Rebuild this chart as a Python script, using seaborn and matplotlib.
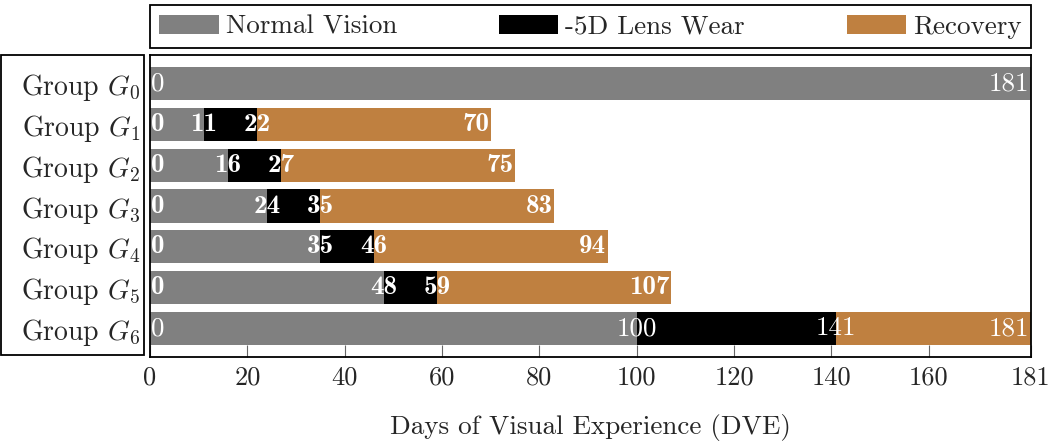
import numpy as np
import pandas as pd
import matplotlib
matplotlib.use('Agg')
import matplotlib.pyplot as plt
from matplotlib.patches import Rectangle
import seaborn as sns

groups = ['Group $G_{%d}$' % i for i in range(7)]
normal_end = [181, 11, 16, 24, 35, 48, 100]
lens_end = [181, 22, 27, 35, 46, 59, 141]
recovery_end = [181, 70, 75, 83, 94, 107, 181]
series_names = ['Normal Vision', '-5D Lens Wear', 'Recovery']
series_colors = ['#808080', '#000000', '#BF8040']
xtick_values = [0, 20, 40, 60, 80, 100, 120, 140, 160, 181]

sns.set_style('ticks')
plt.rcParams['font.family'] = ['cmr10', 'DejaVu Serif']
plt.rcParams['mathtext.fontset'] = 'cm'
plt.rcParams['axes.formatter.use_mathtext'] = True
plt.rcParams['axes.unicode_minus'] = False

df = pd.DataFrame({'group': groups, 'normal': normal_end,
                   'lens': lens_end, 'recovery': recovery_end})

fig = plt.figure(figsize=(10.5, 4.42), dpi=100)
ax = fig.add_axes([150 / 1050, 1 - 357 / 442, 881 / 1050, 302 / 442])

# stacked look: draw cumulative ends, longest first
for col, color in zip(['recovery', 'lens', 'normal'], series_colors[::-1]):
    sns.barplot(data=df, x=col, y='group', orient='h', color=color,
                width=0.81, saturation=1, ax=ax, linewidth=0)

ax.set_xlim(0, 181)
ax.set_ylim(6.7, -0.7)
ax.set_xticks(xtick_values)
ax.set_xticklabels([str(v) for v in xtick_values], fontsize=19)
ax.tick_params(axis='x', direction='in', length=9, width=0.8, color='#666666', pad=6)
ax.tick_params(axis='y', length=0, pad=7, labelsize=20)
ax.set_ylabel('')
ax.set_xlabel('Days of Visual Experience (DVE)', fontsize=19.5, va='top')
ax.xaxis.set_label_coords(0.5, -0.19)
for s in ax.spines.values():
    s.set_visible(True)
    s.set_color('black')
    s.set_linewidth(1.3)

# boundary labels inside bars
for i in range(len(groups)):
    if i == 0:
        vals = [0, normal_end[0]]
    else:
        vals = [0, normal_end[i], lens_end[i], recovery_end[i]]
    fam = 'cmr10' if i in (0, 6) else 'cmb10'
    for j, v in enumerate(vals):
        if j == 0:
            ha, x = 'left', v + 0.3
        elif j == len(vals) - 1:
            ha, x = 'right', v - 0.3
        else:
            ha, x = 'center', v
        ax.text(x, i, str(v), ha=ha, va='center', color='white',
                fontsize=19.5, fontfamily=fam)

handles = [Rectangle((0, 0), 1, 1, facecolor=c, edgecolor='none') for c in series_colors]
leg = fig.legend(handles, series_names, loc='lower left', ncol=3, mode='expand',
                 bbox_to_anchor=(150 / 1050, 1 - 48 / 442, 881 / 1050, 46 / 442),
                 borderaxespad=0, fancybox=False, edgecolor='black', framealpha=1,
                 fontsize=19.5, handlelength=2.2, handleheight=0.7, handletextpad=0.25,
                 borderpad=0.35)
leg.get_frame().set_linewidth(1.3)

fig.add_artist(Rectangle((1 / 1050, 1 - 355 / 442), 143 / 1050, 300 / 442,
                         transform=fig.transFigure, fill=False,
                         edgecolor='black', linewidth=1.3))

fig.savefig('out.png', dpi=100)
